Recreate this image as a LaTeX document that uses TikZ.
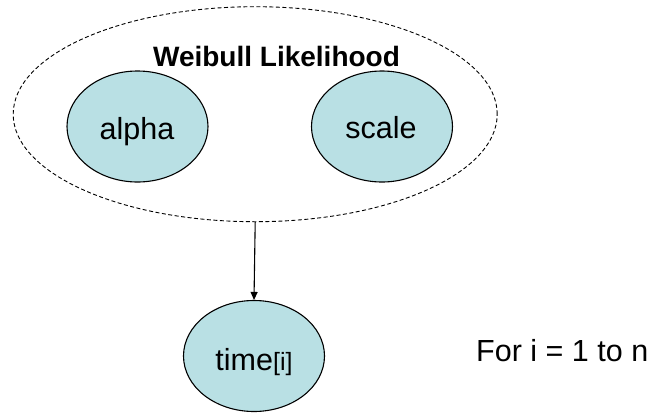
\documentclass[tikz,border=0pt]{standalone}
\usepackage{fontspec}
\setmainfont{Liberation Sans}
\usetikzlibrary{shapes.geometric,arrows.meta}
\definecolor{nodefill}{RGB}{185,224,228}
\tikzset{
  varnode/.style={ellipse,draw=black,line width=1.1pt,fill=nodefill,minimum width=141pt,minimum height=111pt,inner sep=0pt},
  platenode/.style={ellipse,draw=black,line width=0.9pt,dash pattern=on 4pt off 2.5pt,minimum width=484pt,minimum height=215pt,inner sep=0pt},
  lbl/.style={inner sep=0pt,anchor=base},
  big/.style={font=\fontsize{30.5}{34}\selectfont},
  link/.style={line width=1.1pt,-{Triangle[length=8pt,width=7pt]}}
}
\begin{document}
\begin{tikzpicture}[x=1pt,y=-1pt]
\useasboundingbox (0,0) rectangle (651,413);
\node[platenode] (plate) at (255.2,114.2) {};
\node[lbl,font=\fontsize{28}{32}\selectfont\bfseries] (title) at (276.5,66.7) {Weibull Likelihood};
\node[varnode] (alpha) at (137.5,126.5) {};
\node[lbl,big] (alphatext) at (137,139) {alpha};
\node[varnode] (scale) at (382,126.5) {};
\node[lbl,big] (scaletext) at (381,138.5) {scale};
\node[varnode] (time) at (254,356) {};
\node[lbl,big] (timetext) at (254,370) {time{\fontsize{25}{28}\selectfont[i]}};
\node[inner sep=0pt,anchor=base west,big] (loop) at (476,361.7) {For i = 1 to n};
\draw[link] (plate.south) -- (time.north);
\end{tikzpicture}
\end{document}
